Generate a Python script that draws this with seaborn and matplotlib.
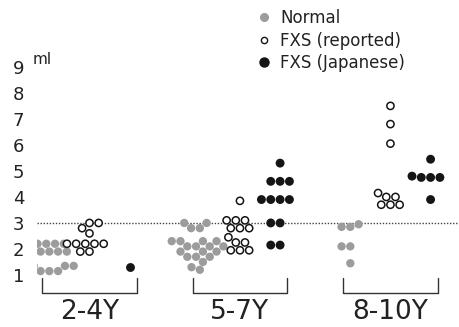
import numpy as np
import pandas as pd
import matplotlib
matplotlib.use("Agg")
import matplotlib.pyplot as plt
import seaborn as sns
from matplotlib.lines import Line2D

# ---------------- data ----------------
age_groups = ["2-4Y", "5-7Y", "8-10Y"]
series = ["Normal", "FXS (reported)", "FXS (Japanese)"]

normal_2_4 = [2.2, 2.2, 2.2, 2.2, 2.2, 1.9, 1.9, 1.9, 1.9, 1.9,
              1.35, 1.35, 1.35, 1.35, 1.15, 1.15, 1.15]
reported_2_4 = [3.0, 3.0, 2.8, 2.6, 2.2, 2.2, 2.2, 2.2, 2.2, 1.9, 1.9]
japanese_2_4 = [1.3]

normal_5_7 = [3.0, 3.0, 2.8, 2.8, 2.3, 2.3, 2.3, 2.3, 2.1, 2.1, 2.1, 2.1,
              1.9, 1.9, 1.9, 1.7, 1.7, 1.7, 1.5, 1.3, 1.2]
reported_5_7 = [3.85, 3.1, 3.1, 3.1, 2.8, 2.8, 2.8, 2.45, 2.25, 2.25,
                1.95, 1.95, 1.95]
japanese_5_7 = [5.3, 4.6, 4.6, 4.6, 3.9, 3.9, 3.9, 3.9, 3.0, 3.0, 2.15, 2.15]

normal_8_10 = [2.95, 2.85, 2.85, 2.1, 2.1, 1.45]
reported_8_10 = [7.5, 6.8, 6.05, 4.15, 4.0, 4.0, 3.7, 3.7, 3.7]
japanese_8_10 = [5.45, 4.8, 4.75, 4.75, 4.75, 3.9]

y_ticks = [1, 2, 3, 4, 5, 6, 7, 8, 9]
threshold = 3
unit_label = "ml"

values = {
    ("2-4Y", "Normal"): normal_2_4,
    ("2-4Y", "FXS (reported)"): reported_2_4,
    ("2-4Y", "FXS (Japanese)"): japanese_2_4,
    ("5-7Y", "Normal"): normal_5_7,
    ("5-7Y", "FXS (reported)"): reported_5_7,
    ("5-7Y", "FXS (Japanese)"): japanese_5_7,
    ("8-10Y", "Normal"): normal_8_10,
    ("8-10Y", "FXS (reported)"): reported_8_10,
    ("8-10Y", "FXS (Japanese)"): japanese_8_10,
}
rows = []
for (age, grp), vals in values.items():
    for v in vals:
        rows.append({"age": age, "group": grp, "volume": v})
df = pd.DataFrame(rows)

# ---------------- style ----------------
sns.set_style("white")
plt.rcParams["font.family"] = ["DejaVu Sans"]

gray = "#9c9c9c"
black = "#151515"
palette = {"Normal": gray, "FXS (reported)": "white", "FXS (Japanese)": black}
edge = {"Normal": gray, "FXS (reported)": black, "FXS (Japanese)": black}
lw = {"Normal": 0.0, "FXS (reported)": 1.1, "FXS (Japanese)": 0.0}
msize = {"Normal": 6.0, "FXS (reported)": 5.2, "FXS (Japanese)": 6.4}

fig = plt.figure(figsize=(4.6, 3.27), dpi=100)
ax = fig.add_axes([0.080, 0.0994, 0.916, 0.712])

ax.axhline(threshold, color="#444444", lw=1.0, ls=(0, (1, 1.2)), zorder=0)

for grp in series:
    sub = df[df["group"] == grp]
    sns.swarmplot(data=sub, x="age", y="volume", hue="group",
                  hue_order=series, order=age_groups, dodge=True,
                  palette=palette, size=msize[grp], edgecolor=edge[grp],
                  linewidth=lw[grp], legend=False, ax=ax, zorder=3)

for coll in ax.collections:
    fc = coll.get_facecolors()
    if len(fc) and np.allclose(fc[0][:3], 1.0):
        coll.set_edgecolor(black)
        coll.set_linewidth(1.1)

# brackets under each age group
for i, _ in enumerate(age_groups):
    ax.plot([i - 0.315, i - 0.315, i + 0.315, i + 0.315],
            [0.87, 0.31, 0.31, 0.87], color="#333333", lw=1.0,
            clip_on=False, zorder=2)

ax.set_xlim(-0.35, 2.45)
ax.set_ylim(0.25, 9.2)
ax.set_yticks(y_ticks)
ax.set_yticklabels([str(t) for t in y_ticks])
ax.tick_params(axis="y", length=0, pad=9, labelsize=13, labelcolor="#222222")
ax.tick_params(axis="x", length=0, pad=3, labelsize=19, labelcolor="#222222")
ax.set_xlabel("")
ax.set_ylabel("")
for sp in ax.spines.values():
    sp.set_visible(False)

fig.text(33 / 460, 1 - 59 / 327, unit_label, fontsize=11, color="#222222",
         ha="left", va="center")

handles = [
    Line2D([], [], marker="o", ls="", markersize=5.5, markerfacecolor=gray,
           markeredgecolor=gray),
    Line2D([], [], marker="o", ls="", markersize=4.5, markerfacecolor="white",
           markeredgecolor=black, markeredgewidth=1.0),
    Line2D([], [], marker="o", ls="", markersize=6.5, markerfacecolor=black,
           markeredgecolor=black),
]
fig.legend(handles, series, loc="upper left",
           bbox_to_anchor=(247 / 460, 1 - 1 / 327), frameon=False,
           fontsize=12, handlelength=1.0, handletextpad=0.5,
           labelspacing=0.25, borderpad=0, labelcolor="#222222")

fig.savefig("out.png", dpi=100)
